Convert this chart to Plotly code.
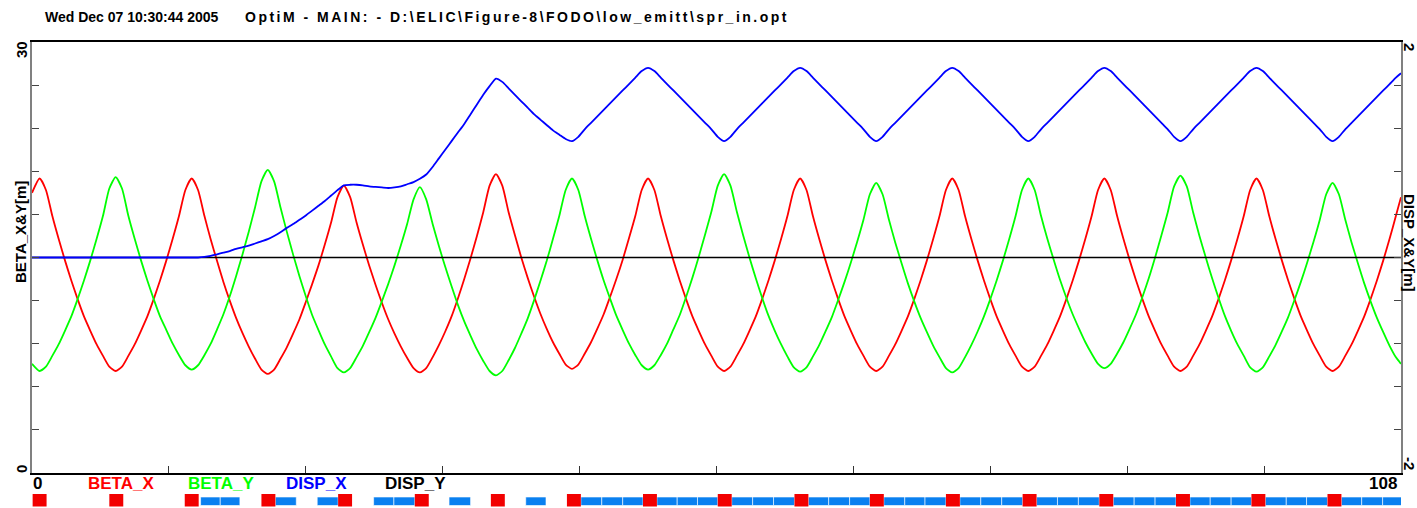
import plotly.graph_objects as go

# ---------------- data ----------------
# sample positions along the beamline [m]
s_pos = [0.0] + [round(0.6 + 0.5 * i, 2) for i in range(215)] + [108.0]

beta_x = [19.5,
    20.5, 19.7, 17.9, 16.3, 14.8, 13.4, 12.1, 10.9, 9.9, 8.95, 8.15, 7.4, 7.1,
    7.4, 8.15, 8.95, 9.9, 10.9, 12.1, 13.4, 14.8, 16.3, 17.9, 19.7, 20.5,
    19.7, 17.9, 16.25, 14.75, 13.3, 12.0, 10.8, 9.75, 8.8, 7.95, 7.2, 6.9,
    7.2, 7.95, 8.75, 9.7, 10.7, 11.9, 13.15, 14.45, 15.9, 17.45, 19.2, 20.0,
    19.2, 17.45, 15.9, 14.45, 13.1, 11.85, 10.7, 9.7, 8.8, 8.0, 7.3, 7.0,
    7.3, 8.05, 8.9, 9.85, 10.9, 12.15, 13.5, 14.95, 16.5, 18.15, 20.0, 20.8,
    20.0, 18.15, 16.55, 15.0, 13.6, 12.3, 11.1, 10.05, 9.1, 8.3, 7.55, 7.25,
    7.55, 8.3, 9.1, 10.05, 11.05, 12.25, 13.5, 14.85, 16.35, 17.9, 19.7, 20.5,
    19.7, 17.9, 16.3, 14.8, 13.4, 12.1, 10.9, 9.9, 8.95, 8.15, 7.4, 7.1,
    7.4, 8.15, 8.95, 9.9, 10.9, 12.1, 13.4, 14.8, 16.3, 17.9, 19.7, 20.5,
    19.7, 17.9, 16.3, 14.8, 13.4, 12.1, 10.9, 9.9, 8.95, 8.15, 7.4, 7.1,
    7.4, 8.15, 8.95, 9.9, 10.9, 12.1, 13.4, 14.8, 16.3, 17.9, 19.7, 20.5,
    19.7, 17.9, 16.3, 14.8, 13.4, 12.1, 10.9, 9.9, 8.95, 8.15, 7.4, 7.1,
    7.4, 8.15, 8.95, 9.9, 10.9, 12.1, 13.4, 14.8, 16.3, 17.9, 19.7, 20.5,
    19.7, 17.9, 16.3, 14.8, 13.4, 12.1, 10.9, 9.9, 8.95, 8.15, 7.4, 7.1,
    7.4, 8.15, 8.95, 9.9, 10.9, 12.1, 13.4, 14.8, 16.3, 17.9, 19.7, 20.5,
    19.7, 17.9, 16.3, 14.8, 13.4, 12.1, 10.9, 9.9, 8.95, 8.15, 7.4, 7.1,
    7.4, 8.15, 8.95, 9.9, 10.9, 12.1, 13.4, 14.8, 16.3, 17.9,
    19.2]

beta_y = [7.6,
    7.1, 7.4, 8.15, 8.95, 9.9, 10.9, 12.1, 13.4, 14.8, 16.3, 17.9, 19.8, 20.6,
    19.8, 17.9, 16.3, 14.8, 13.4, 12.1, 10.9, 9.95, 9.0, 8.2, 7.5, 7.2,
    7.5, 8.2, 9.0, 10.0, 11.05, 12.3, 13.7, 15.2, 16.8, 18.5, 20.3, 21.1,
    20.3, 18.5, 16.8, 15.2, 13.7, 12.3, 11.0, 9.95, 8.95, 8.1, 7.3, 7.0,
    7.3, 8.05, 8.85, 9.8, 10.8, 11.95, 13.15, 14.45, 15.85, 17.35, 19.05, 19.9,
    19.05, 17.35, 15.8, 14.35, 13.0, 11.7, 10.55, 9.55, 8.6, 7.8, 7.1, 6.8,
    7.1, 7.85, 8.7, 9.7, 10.75, 12.0, 13.35, 14.75, 16.3, 17.9, 19.7, 20.5,
    19.7, 17.9, 16.3, 14.8, 13.4, 12.15, 10.95, 9.95, 9.0, 8.2, 7.5, 7.2,
    7.5, 8.2, 9.0, 10.0, 11.0, 12.25, 13.6, 15.05, 16.6, 18.2, 20.0, 20.8,
    20.0, 18.2, 16.55, 15.0, 13.55, 12.2, 10.95, 9.9, 8.95, 8.1, 7.35, 7.05,
    7.35, 8.1, 8.9, 9.85, 10.85, 12.05, 13.3, 14.65, 16.1, 17.65, 19.4, 20.2,
    19.4, 17.65, 16.05, 14.6, 13.2, 11.95, 10.8, 9.8, 8.85, 8.05, 7.3, 7.0,
    7.3, 8.05, 8.9, 9.85, 10.9, 12.1, 13.4, 14.8, 16.3, 17.9, 19.7, 20.5,
    19.7, 17.9, 16.3, 14.85, 13.45, 12.2, 11.05, 10.05, 9.1, 8.3, 7.6, 7.3,
    7.6, 8.3, 9.1, 10.05, 11.05, 12.25, 13.55, 15.0, 16.55, 18.15, 19.95, 20.7,
    19.95, 18.15, 16.5, 15.0, 13.55, 12.2, 10.95, 9.9, 8.95, 8.15, 7.35, 7.05,
    7.35, 8.1, 8.9, 9.85, 10.85, 12.05, 13.3, 14.65, 16.1, 17.65, 19.4, 20.2,
    19.4, 17.65, 16.05, 14.6, 13.2, 11.95, 10.8, 9.8, 8.85, 8.05,
    7.6]

disp_x = [0.0,
    0.0, 0.0, 0.0, 0.0, 0.0, 0.0, 0.0, 0.0, 0.0, 0.0, 0.0, 0.0, 0.0,
    0.0, 0.0, 0.0, 0.0, 0.0, 0.0, 0.0, 0.0, 0.0, 0.0, 0.0, 0.0,
    0.0, 0.005, 0.015, 0.03, 0.045, 0.06, 0.08, 0.095, 0.11, 0.13,
    0.15, 0.17, 0.2, 0.235, 0.275, 0.31, 0.35, 0.39, 0.435, 0.48,
    0.525, 0.575, 0.625, 0.67, 0.675, 0.675, 0.67, 0.66, 0.655, 0.65,
    0.645, 0.65, 0.66, 0.68, 0.7, 0.73, 0.77, 0.84, 0.92, 1.0,
    1.08, 1.16, 1.24, 1.33, 1.42, 1.51, 1.59, 1.66, 1.63, 1.57,
    1.51, 1.45, 1.39, 1.33, 1.28, 1.23, 1.18, 1.14, 1.1, 1.08,
    1.12, 1.19, 1.25, 1.31, 1.37, 1.43, 1.49, 1.55, 1.61, 1.67, 1.73, 1.76,
    1.73, 1.67, 1.61, 1.55, 1.49, 1.43, 1.37, 1.31, 1.25, 1.19, 1.12, 1.08,
    1.12, 1.19, 1.25, 1.31, 1.37, 1.43, 1.49, 1.55, 1.61, 1.67, 1.73, 1.76,
    1.73, 1.67, 1.61, 1.55, 1.49, 1.43, 1.37, 1.31, 1.25, 1.19, 1.12, 1.08,
    1.12, 1.19, 1.25, 1.31, 1.37, 1.43, 1.49, 1.55, 1.61, 1.67, 1.73, 1.76,
    1.73, 1.67, 1.61, 1.55, 1.49, 1.43, 1.37, 1.31, 1.25, 1.19, 1.12, 1.08,
    1.12, 1.19, 1.25, 1.31, 1.37, 1.43, 1.49, 1.55, 1.61, 1.67, 1.73, 1.76,
    1.73, 1.67, 1.61, 1.55, 1.49, 1.43, 1.37, 1.31, 1.25, 1.19, 1.12, 1.08,
    1.12, 1.19, 1.25, 1.31, 1.37, 1.43, 1.49, 1.55, 1.61, 1.67, 1.73, 1.76,
    1.73, 1.67, 1.61, 1.55, 1.49, 1.43, 1.37, 1.31, 1.25, 1.19, 1.12, 1.08,
    1.12, 1.19, 1.25, 1.31, 1.37, 1.43, 1.49, 1.55, 1.61, 1.67,
    1.71]

disp_y_s = [0.0, 108.0]
disp_y = [0.0, 0.0]

# lattice: quadrupoles and dipoles [m]
quad_start = [0.05, 6.1, 12.05, 18.1, 24.15, 30.2, 36.2, 42.2, 48.2, 54.1,
              60.15, 66.1, 72.1, 78.15, 84.2, 90.25, 96.2, 102.2]
quad_length = 1.1
dip_start = [13.3, 14.85, 19.2, 22.5, 26.95, 28.55, 32.9, 38.95, 43.3, 44.95, 46.6,
             49.3, 50.9, 52.5, 55.2, 56.85, 58.5, 61.25, 62.85, 64.5,
             67.2, 68.85, 70.45, 73.2, 74.85, 76.5, 79.25, 80.9, 82.55,
             85.3, 86.95, 88.6, 91.35, 92.95, 94.6, 97.3, 98.95, 100.55,
             103.3, 104.9, 106.55]
dip_end = [14.85, 16.4, 20.85, 24.15, 28.55, 30.2, 34.6, 40.55, 44.95, 46.6, 48.2,
           50.9, 52.5, 54.1, 56.85, 58.5, 60.15, 62.85, 64.5, 66.1,
           68.85, 70.45, 72.1, 74.85, 76.5, 78.15, 80.9, 82.55, 84.2,
           86.95, 88.6, 90.25, 92.95, 94.6, 96.2, 98.95, 100.55, 102.2,
           104.9, 106.55, 108.2]

x_ticks = [10.8, 21.6, 32.4, 43.2, 54.0, 64.8, 75.6, 86.4, 97.2]
y_ticks = [3, 6, 9, 12, 15, 18, 21, 24, 27]

title_date = "Wed Dec 07 10:30:44 2005"
title_file = "OptiM - MAIN: - D:\\ELIC\\Figure-8\\FODO\\low_emitt\\spr_in.opt"

# ---------------- layout helpers ----------------
W, H = 1417, 508
ML, MR, MT, MB = 32, 16, 42, 35
PW, PH = W - ML - MR, H - MT - MB


def px(x):
    return (x - ML) / PW


def py(y):
    return (H - MB - y) / PH


FONT = "Liberation Sans, Arial, Helvetica, sans-serif"
RED, GREEN, BLUE = "#ff0000", "#00ff00", "#0000ff"
LINE = dict(width=1.8, shape="spline", smoothing=0.6)

fig = go.Figure()
fig.add_trace(go.Scatter(x=disp_y_s, y=disp_y, yaxis="y2", mode="lines",
                         line=dict(color="black", width=1.4), name="DISP_Y"))
fig.add_trace(go.Scatter(x=s_pos, y=beta_x, mode="lines",
                         line=dict(color=RED, **LINE), name="BETA_X"))
fig.add_trace(go.Scatter(x=s_pos, y=beta_y, mode="lines",
                         line=dict(color=GREEN, **LINE), name="BETA_Y"))
fig.add_trace(go.Scatter(x=s_pos, y=disp_x, yaxis="y2", mode="lines",
                         line=dict(color=BLUE, **LINE), name="DISP_X"))

shapes = []
for a, b in zip(dip_start, dip_end):
    shapes.append(dict(type="rect", xref="x", yref="paper", x0=a, x1=b,
                       y0=py(505.5), y1=py(497), fillcolor="#0a80f0",
                       line=dict(color="white", width=0.6), layer="above"))
for q in quad_start:
    shapes.append(dict(type="rect", xref="x", yref="paper", x0=q, x1=q + quad_length,
                       y0=py(506.5), y1=py(494), fillcolor="#f20000",
                       line=dict(width=0), layer="above"))

ann = []


def add_text(text, x, y, size=14, color="black", angle=0, xanchor="center"):
    ann.append(dict(text="<b>" + text + "</b>", x=px(x), y=py(y), xref="paper", yref="paper",
                    showarrow=False, textangle=angle, xanchor=xanchor, yanchor="middle",
                    font=dict(family=FONT, size=size, color=color)))


add_text(title_date, 43, 17, size=14, xanchor="left")
add_text('<span style="letter-spacing:2.5px">' + title_file + '</span>', 243, 17,
         size=14, xanchor="left")
add_text("30", 21, 50, size=15, angle=-90)
add_text("0", 21, 469, size=15, angle=-90)
add_text("BETA_X&amp;Y[m]", 21, 232, size=15, angle=-90)
add_text("2", 1410, 47, size=15, angle=90)
add_text("-2", 1410, 463, size=15, angle=90)
add_text("DISP_X&amp;Y[m]", 1410, 243, size=15, angle=90)
add_text("0", 37, 483, size=17)
add_text("108", 1399, 483, size=17, xanchor="right")
add_text("BETA_X", 86, 483, size=17, color=RED, xanchor="left")
add_text("BETA_Y", 186, 483, size=17, color=GREEN, xanchor="left")
add_text("DISP_X", 284, 483, size=17, color=BLUE, xanchor="left")
add_text("DISP_Y", 383, 483, size=17, color="black", xanchor="left")

fig.update_layout(
    width=W, height=H,
    margin=dict(l=ML, r=MR, t=MT, b=MB, pad=0),
    paper_bgcolor="white", plot_bgcolor="white",
    showlegend=False,
    shapes=shapes, annotations=ann,
    xaxis=dict(range=[0, 108], showgrid=False, zeroline=False,
               showline=True, linecolor="black", linewidth=1.5, mirror=True,
               ticks="inside", ticklen=7, tickcolor="#333", tickwidth=1,
               tickvals=x_ticks, showticklabels=False),
    yaxis=dict(range=[0, 30], showgrid=False, zeroline=False,
               showline=True, linecolor="#808080", linewidth=2, mirror="ticks",
               ticks="inside", ticklen=7, tickcolor="#444", tickwidth=1,
               tickvals=y_ticks, showticklabels=False),
    yaxis2=dict(range=[-2, 2], overlaying="y", side="right", showgrid=False,
                zeroline=False, showline=False, showticklabels=False, ticks=""),
)

fig.write_html("out.html")
